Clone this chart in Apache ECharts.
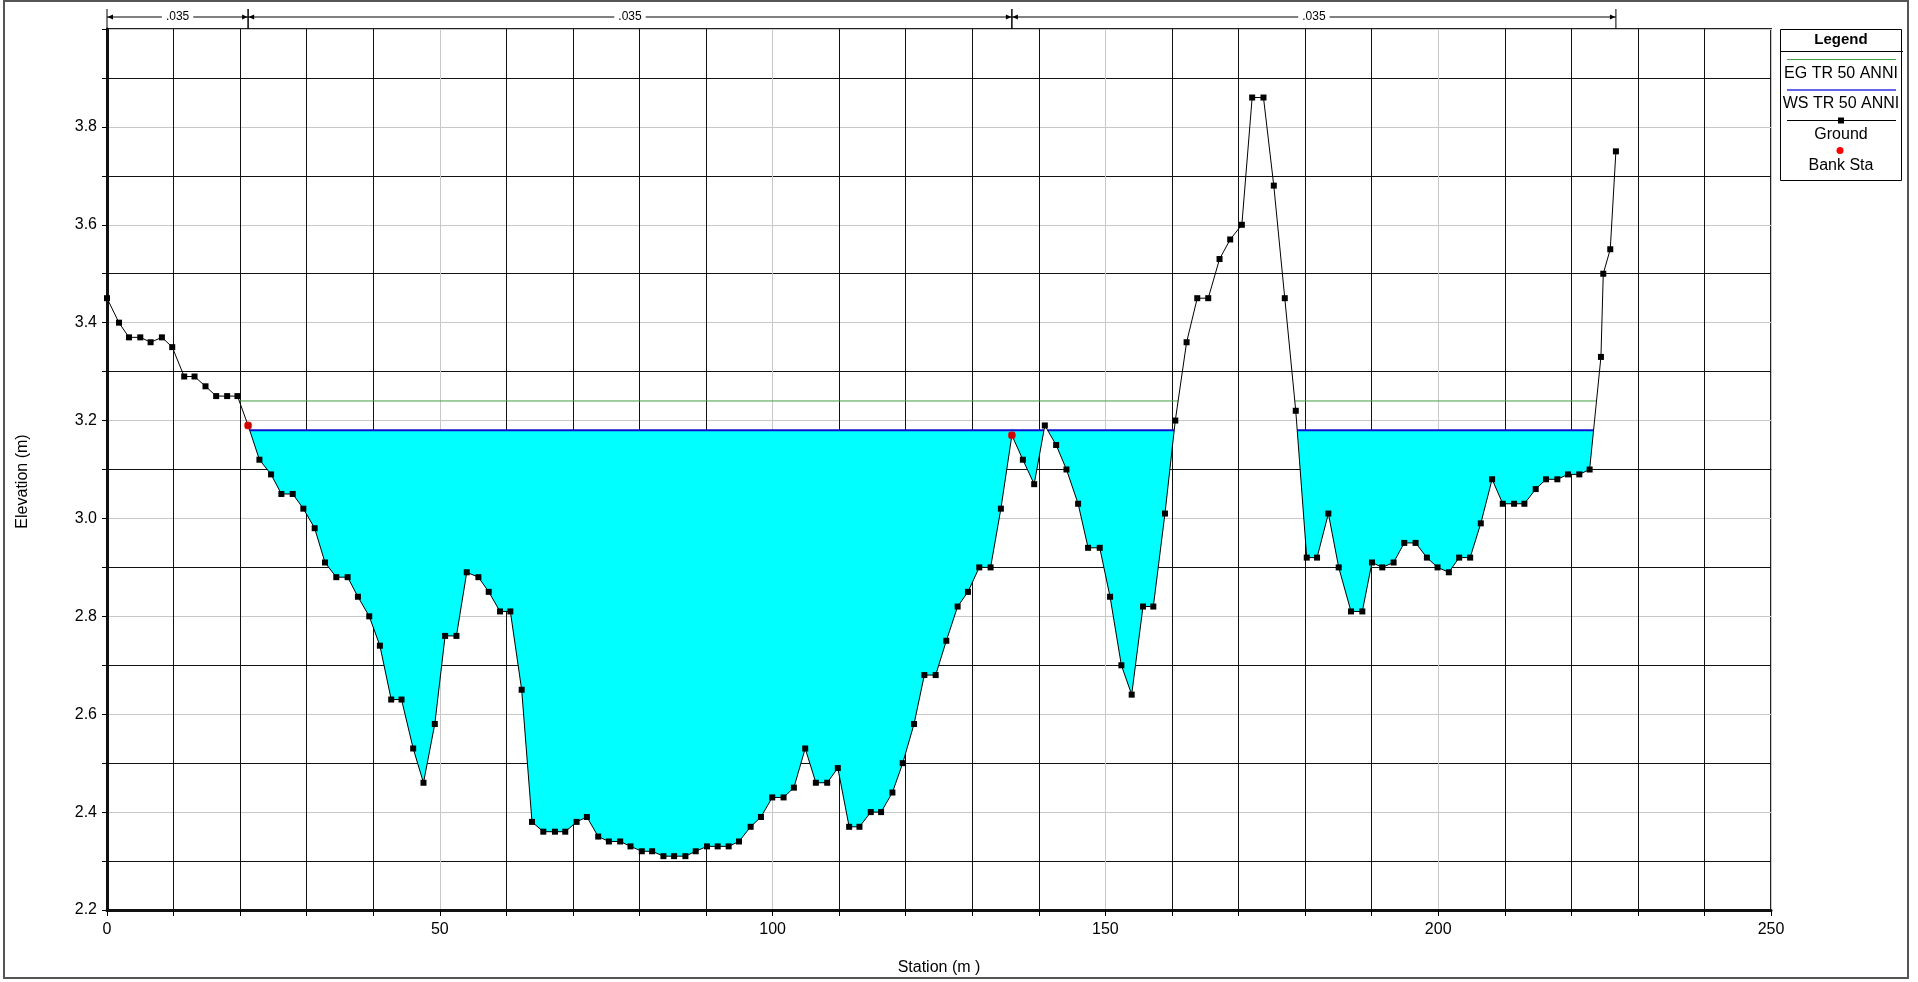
<!DOCTYPE html>
<html>
<head>
<meta charset="utf-8">
<title>Cross Section</title>
<script src="https://cdn.jsdelivr.net/npm/echarts@6/dist/echarts.min.js"></script>
<style>
  html, body { margin: 0; padding: 0; background: #fff; }
  #chart { width: 1918px; height: 982px; }
</style>
</head>
<body>
<div id="chart"></div>
<script>
// Ground survey points (station m, elevation m)
const stations = [
  0, 1.8, 3.3, 5.0, 6.55, 8.25, 9.8, 11.6, 13.15, 14.8,
  16.4, 18.05, 19.6, 21.2, 22.9, 24.65, 26.2, 27.9, 29.5, 31.2,
  32.75, 34.45, 36.15, 37.7, 39.4, 41.0, 42.7, 44.25, 46.0, 47.55,
  49.25, 50.8, 52.5, 54.05, 55.8, 57.35, 59.05, 60.6, 62.3, 63.85,
  65.55, 67.3, 68.85, 70.55, 72.1, 73.8, 75.4, 77.1, 78.65, 80.35,
  81.9, 83.6, 85.2, 86.9, 88.45, 90.15, 91.75, 93.4, 94.95, 96.7,
  98.25, 99.95, 101.65, 103.2, 104.9, 106.5, 108.2, 109.8, 111.5, 113.05,
  114.75, 116.3, 118.0, 119.55, 121.25, 122.8, 124.5, 126.1, 127.8, 129.35,
  131.05, 132.75, 134.3, 135.95, 137.6, 139.3, 140.9, 142.6, 144.15, 145.9,
  147.4, 149.15, 150.7, 152.4, 153.95, 155.65, 157.2, 158.95, 160.5, 162.2,
  163.8, 165.45, 167.15, 168.75, 170.5, 172.05, 173.75, 175.3, 176.95, 178.6,
  180.25, 181.8, 183.5, 185.05, 186.9, 188.6, 190.05, 191.6, 193.3, 194.9,
  196.6, 198.3, 199.9, 201.6, 203.15, 204.8, 206.4, 208.1, 209.7, 211.4,
  212.95, 214.65, 216.2, 217.9, 219.5, 221.2, 222.75, 224.45, 224.8, 225.85,
  226.7
];
const elevations = [
  3.45, 3.40, 3.37, 3.37, 3.36, 3.37, 3.35, 3.29, 3.29, 3.27,
  3.25, 3.25, 3.25, 3.19, 3.12, 3.09, 3.05, 3.05, 3.02, 2.98,
  2.91, 2.88, 2.88, 2.84, 2.80, 2.74, 2.63, 2.63, 2.53, 2.46,
  2.58, 2.76, 2.76, 2.89, 2.88, 2.85, 2.81, 2.81, 2.65, 2.38,
  2.36, 2.36, 2.36, 2.38, 2.39, 2.35, 2.34, 2.34, 2.33, 2.32,
  2.32, 2.31, 2.31, 2.31, 2.32, 2.33, 2.33, 2.33, 2.34, 2.37,
  2.39, 2.43, 2.43, 2.45, 2.53, 2.46, 2.46, 2.49, 2.37, 2.37,
  2.40, 2.40, 2.44, 2.50, 2.58, 2.68, 2.68, 2.75, 2.82, 2.85,
  2.90, 2.90, 3.02, 3.17, 3.12, 3.07, 3.19, 3.15, 3.10, 3.03,
  2.94, 2.94, 2.84, 2.70, 2.64, 2.82, 2.82, 3.01, 3.20, 3.36,
  3.45, 3.45, 3.53, 3.57, 3.60, 3.86, 3.86, 3.68, 3.45, 3.22,
  2.92, 2.92, 3.01, 2.90, 2.81, 2.81, 2.91, 2.90, 2.91, 2.95,
  2.95, 2.92, 2.90, 2.89, 2.92, 2.92, 2.99, 3.08, 3.03, 3.03,
  3.03, 3.06, 3.08, 3.08, 3.09, 3.09, 3.10, 3.33, 3.50, 3.55,
  3.75
];

// Bank stations
const bankStations = [21.2, 135.95];
const bankElevations = [3.19, 3.17];

// Water surface and energy grade for the 50-year event
const wsElevation = 3.18;
const egElevation = 3.24;

// Manning's n: left overbank, channel, right overbank
const manningN = ['.035', '.035', '.035'];

// Axis tick labels
const xTickLabels = ['0', '50', '100', '150', '200', '250'];
const yTickLabels = ['2.2', '2.4', '2.6', '2.8', '3.0', '3.2', '3.4', '3.6', '3.8'];

const FONT = '"Liberation Sans", Arial, sans-serif';

// Wet reaches: where the ground lies below a given level
function wetIntervals(level) {
  const out = [];
  let start = null, startIdx = null;
  for (let i = 0; i < stations.length - 1; i++) {
    const s0 = stations[i], s1 = stations[i + 1];
    const e0 = elevations[i], e1 = elevations[i + 1];
    const cross = s0 + (level - e0) / (e1 - e0) * (s1 - s0);
    if (e0 >= level && e1 < level) { start = cross; startIdx = i + 1; }
    if (e0 < level && e1 >= level && start !== null) {
      out.push([start, cross, startIdx, i]);
      start = null;
    }
  }
  return out;
}

const wsReaches = wetIntervals(wsElevation);
const egReaches = wetIntervals(egElevation);

const manningSegments = [
  [stations[0], bankStations[0], manningN[0]],
  [bankStations[0], bankStations[1], manningN[1]],
  [bankStations[1], stations[stations.length - 1], manningN[2]]
];

const chart = echarts.init(document.getElementById('chart'), null, { renderer: 'canvas' });

const option = {
  animation: false,
  backgroundColor: '#fff',
  grid: {
    left: 107, right: 147, top: 29, bottom: 72,
    show: true, borderColor: '#222', borderWidth: 2, backgroundColor: 'transparent'
  },
  xAxis: {
    type: 'value', min: 0, max: 250, interval: 10,
    name: 'Station (m )', nameLocation: 'middle', nameGap: 50,
    nameTextStyle: { fontFamily: FONT, fontSize: 16, color: '#000' },
    axisLine: { show: true, lineStyle: { color: '#111', width: 3 } },
    axisTick: { show: true, inside: false, length: 6, lineStyle: { color: '#000', width: 1 } },
    axisLabel: {
      margin: 12, fontFamily: FONT, fontSize: 16, color: '#000',
      formatter: v => xTickLabels.includes(String(v)) ? String(v) : ''
    },
    splitLine: {
      show: true,
      lineStyle: { color: ['#c8c8c8', '#111', '#111', '#111', '#111'], width: 1 }
    }
  },
  yAxis: {
    type: 'value', min: 2.2, max: 4.0, interval: 0.1,
    name: 'Elevation (m)', nameLocation: 'middle', nameGap: 76, nameRotate: 90,
    nameTextStyle: { fontFamily: FONT, fontSize: 16, color: '#000', padding: [0, 24, 0, 0] },
    axisLine: { show: true, lineStyle: { color: '#111', width: 3 } },
    axisTick: { show: true, inside: false, length: 5, lineStyle: { color: '#000', width: 1 } },
    axisLabel: {
      margin: 10, fontFamily: FONT, fontSize: 16, color: '#000',
      formatter: v => { const s = v.toFixed(1); return yTickLabels.includes(s) ? s : ''; }
    },
    splitLine: {
      show: true,
      lineStyle: { color: ['#c8c8c8', '#111'], width: 1 }
    }
  },
  series: [
    {
      // flow area below the water surface
      name: 'Flow area', type: 'custom', z: 1, clip: true,
      data: wsReaches,
      encode: { x: [0, 1], y: -1 },
      renderItem: (params, api) => {
        const a = api.value(0), b = api.value(1);
        const i0 = api.value(2), i1 = api.value(3);
        const pts = [api.coord([a, wsElevation])];
        for (let k = i0; k <= i1; k++) pts.push(api.coord([stations[k], elevations[k]]));
        pts.push(api.coord([b, wsElevation]));
        return { type: 'polygon', shape: { points: pts }, style: { fill: '#00ffff', stroke: null } };
      }
    },
    {
      name: 'EG TR 50 ANNI', type: 'custom', z: 2, clip: true,
      data: egReaches,
      encode: { x: [0, 1], y: -1 },
      renderItem: (params, api) => {
        const p0 = api.coord([api.value(0), egElevation]);
        const p1 = api.coord([api.value(1), egElevation]);
        return { type: 'line', shape: { x1: p0[0], y1: p0[1], x2: p1[0], y2: p1[1] },
          style: { stroke: '#3f9f3f', lineWidth: 1 } };
      }
    },
    {
      name: 'WS TR 50 ANNI', type: 'custom', z: 3, clip: true,
      data: wsReaches,
      encode: { x: [0, 1], y: -1 },
      renderItem: (params, api) => {
        const p0 = api.coord([api.value(0), wsElevation]);
        const p1 = api.coord([api.value(1), wsElevation]);
        return { type: 'line', shape: { x1: p0[0], y1: p0[1], x2: p1[0], y2: p1[1] },
          style: { stroke: '#1010d0', lineWidth: 2 } };
      }
    },
    {
      name: 'Ground', type: 'line', z: 5,
      data: stations.map((s, i) => [s, elevations[i]]),
      symbol: 'rect', symbolSize: 6, showSymbol: true, showAllSymbol: true,
      itemStyle: { color: '#000' },
      lineStyle: { color: '#000', width: 1 }
    },
    {
      name: 'Bank Sta', type: 'scatter', z: 6,
      data: bankStations.map((s, i) => [s, bankElevations[i]]),
      symbol: 'circle', symbolSize: 8,
      itemStyle: { color: '#ff0000' }
    },
    {
      // Manning's n dimension line above the plot
      name: 'Manning n', type: 'custom', z: 7, clip: false,
      data: manningSegments,
      encode: { x: [0, 1], y: -1 },
      renderItem: (params, api) => {
        const x0 = api.coord([api.value(0), 4.0])[0];
        const x1 = api.coord([api.value(1), 4.0])[0];
        const top = params.coordSys.y;
        const yl = top - 12;
        const label = manningSegments[params.dataIndex][2];
        const st = { stroke: '#000', lineWidth: 1 };
        return {
          type: 'group',
          children: [
            { type: 'line', shape: { x1: x0, y1: yl, x2: x1, y2: yl }, style: st },
            { type: 'line', shape: { x1: x0, y1: top - 20, x2: x0, y2: top }, style: st },
            { type: 'line', shape: { x1: x1, y1: top - 20, x2: x1, y2: top }, style: st },
            { type: 'polygon', shape: { points: [[x0 + 0.5, yl], [x0 + 6, yl - 2.5], [x0 + 6, yl + 2.5]] }, style: { fill: '#000' } },
            { type: 'polygon', shape: { points: [[x1 - 0.5, yl], [x1 - 6, yl - 2.5], [x1 - 6, yl + 2.5]] }, style: { fill: '#000' } },
            { type: 'text', style: { text: label, x: (x0 + x1) / 2, y: yl, align: 'center', verticalAlign: 'middle',
              fill: '#000', font: '12px ' + FONT, backgroundColor: '#fff', padding: [1, 4] } }
          ]
        };
      }
    }
  ],
  graphic: [
    // outer frame
    { type: 'rect', silent: true, z: 0,
      shape: { x: 4, y: 1, width: 1904, height: 977 },
      style: { fill: null, stroke: '#555', lineWidth: 2 } },
    // legend
    { type: 'group', z: 100, children: [
      { type: 'rect', shape: { x: 1780.5, y: 29.5, width: 121, height: 151 }, style: { fill: '#fff', stroke: '#000', lineWidth: 1 } },
      { type: 'text', style: { text: 'Legend', x: 1841, y: 40, align: 'center', verticalAlign: 'middle', font: 'bold 15px ' + FONT, fill: '#000' } },
      { type: 'line', shape: { x1: 1780, y1: 51.5, x2: 1903, y2: 51.5 }, style: { stroke: '#000', lineWidth: 1 } },
      { type: 'line', shape: { x1: 1787, y1: 59.5, x2: 1896, y2: 59.5 }, style: { stroke: '#3f9f3f', lineWidth: 1 } },
      { type: 'text', style: { text: 'EG TR 50 ANNI', x: 1841, y: 74, align: 'center', verticalAlign: 'middle', font: '16px ' + FONT, fill: '#000' } },
      { type: 'line', shape: { x1: 1787, y1: 90, x2: 1896, y2: 90 }, style: { stroke: '#3030e0', lineWidth: 1.5 } },
      { type: 'text', style: { text: 'WS TR 50 ANNI', x: 1841, y: 104, align: 'center', verticalAlign: 'middle', font: '16px ' + FONT, fill: '#000' } },
      { type: 'line', shape: { x1: 1787, y1: 120.5, x2: 1896, y2: 120.5 }, style: { stroke: '#000', lineWidth: 1 } },
      { type: 'rect', shape: { x: 1838, y: 117.5, width: 6, height: 6 }, style: { fill: '#000' } },
      { type: 'text', style: { text: 'Ground', x: 1841, y: 135, align: 'center', verticalAlign: 'middle', font: '16px ' + FONT, fill: '#000' } },
      { type: 'circle', shape: { cx: 1840, cy: 150.5, r: 3.5 }, style: { fill: '#ff0000' } },
      { type: 'text', style: { text: 'Bank Sta', x: 1841, y: 166, align: 'center', verticalAlign: 'middle', font: '16px ' + FONT, fill: '#000' } }
    ] }
  ]
};

chart.setOption(option);
</script>
</body>
</html>
